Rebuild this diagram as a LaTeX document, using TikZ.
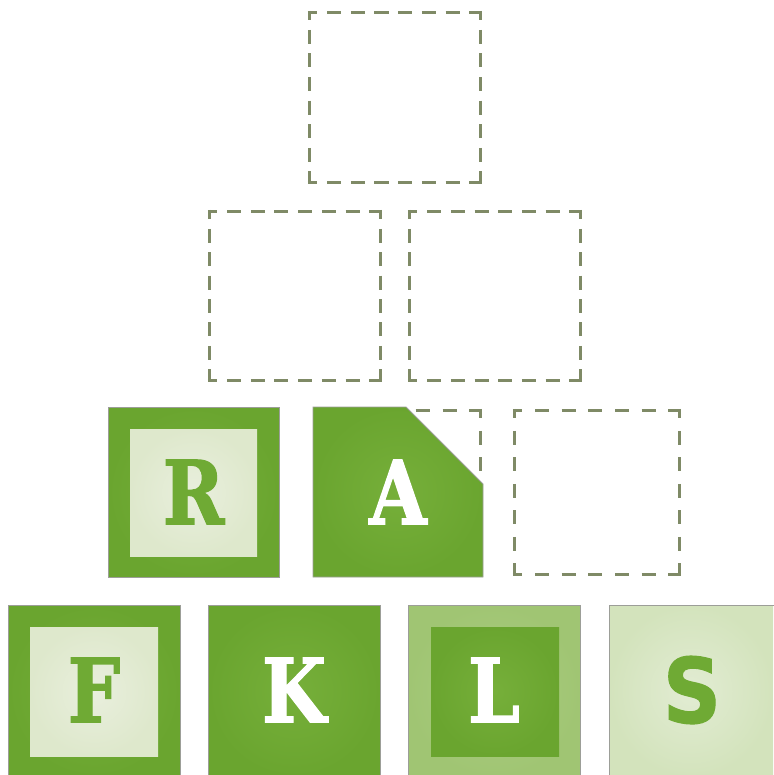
\documentclass[tikz,border=0pt]{standalone}
\usepackage{fontspec}
\newfontfamily\slabfont[BoldFeatures={FakeBold=1.6}]{DejaVu Serif}
\newfontfamily\roundfont[BoldFeatures={FakeBold=1.2}]{DejaVu Sans}
\definecolor{dashc}{HTML}{7F8A66}
\definecolor{tileg}{HTML}{76AF3A}
\definecolor{tilegd}{HTML}{6AA52F}
\definecolor{lightc}{HTML}{E9EFDD}
\definecolor{lightd}{HTML}{DEE8CC}
\definecolor{lgreen}{HTML}{ABCC82}
\definecolor{lgreend}{HTML}{A0C573}
\definecolor{sc}{HTML}{E2ECD3}
\definecolor{scd}{HTML}{D3E3BC}
\definecolor{letg}{HTML}{6FAA34}
\definecolor{edgec}{HTML}{9C9E98}
\tikzset{
  dboxline/.style={draw=dashc, line width=3.3pt, line cap=butt},
  tileedge/.style={draw=edgec, line width=0.9pt},
  letter/.style={inner sep=0pt, font=\slabfont\bfseries\fontsize{88}{88}\selectfont, xscale=0.84},
  roundletter/.style={inner sep=0pt, font=\roundfont\bfseries\fontsize{90}{90}\selectfont, xscale=0.9},
}
\newcommand\dd{14}
\newcommand\dc{9.5}
% one dashed side: x0 y0 x1 y1 n
\newcommand\dside[5]{%
  \pgfmathsetmacro\sL{veclen(#3-#1,#4-#2)}%
  \pgfmathsetmacro\sG{(\sL-2*\dc-#5*\dd)/(#5+1)}%
  \pgfmathsetmacro\sP{\dd-\dc}%
  \draw[dboxline, dash pattern=on \dd pt off \sG pt, dash phase=\sP pt] (#1,#2) -- (#3,#4);%
}
% dashed box: x0 y0 x1 y1 n
\newcommand\dbox[5]{%
  \dside{#1-1.65}{#2}{#3+1.65}{#2}{#5}%
  \dside{#1-1.65}{#4}{#3+1.65}{#4}{#5}%
  \dside{#1}{#2-1.65}{#1}{#4+1.65}{#5}%
  \dside{#3}{#2-1.65}{#3}{#4+1.65}{#5}%
}
\begin{document}
\begin{tikzpicture}[x=1pt,y=-1pt]
\useasboundingbox (0,0) rectangle (773,775);
\fill[white] (0,0) rectangle (773,775);

% empty dashed places
\dbox{309.5}{12.5}{480.5}{182.5}{6}
\dbox{209.5}{211.5}{380.5}{380.5}{6}
\dbox{409.5}{211.5}{580.5}{380.5}{6}
\dbox{314.5}{410.5}{480.5}{574.5}{5}
\dbox{514.5}{410.5}{679.5}{574.5}{5}

% R tile
\shade[inner color=tileg, outer color=tilegd] (108,407) rectangle (279,577);
\shade[inner color=lightc, outer color=lightd] (130,429) rectangle (257,556);
\draw[tileedge] (108,407) rectangle (279,577);
\node[letter, text=letg] (R) at (193.5,492) {R};

% A tile with cut corner
\shade[inner color=tileg, outer color=tilegd] (313,407) -- (406,407) -- (483,484) -- (483,577) -- (313,577) -- cycle;
\draw[tileedge] (313,407) -- (406,407) -- (483,484) -- (483,577) -- (313,577) -- cycle;
\node[letter, text=white] (A) at (398,492) {A};

% F tile
\shade[inner color=tileg, outer color=tilegd] (8,605) rectangle (180,777);
\shade[inner color=lightc, outer color=lightd] (30,627) rectangle (158,756);
\draw[tileedge] (8,605) rectangle (180,777);
\node[letter, text=letg] (F) at (94,690) {F};

% K tile
\shade[inner color=tileg, outer color=tilegd] (208,605) rectangle (380,777);
\draw[tileedge] (208,605) rectangle (380,777);
\node[letter, text=white] (K) at (294,690) {K};

% L tile
\shade[inner color=lgreen, outer color=lgreend] (408,605) rectangle (580,777);
\shade[inner color=tileg, outer color=tilegd] (431,627) rectangle (559,756);
\draw[tileedge] (408,605) rectangle (580,777);
\node[letter, text=white] (L) at (494,690) {L};

% S tile
\shade[inner color=sc, outer color=scd] (609,605) rectangle (773,777);
\draw[tileedge] (609,605) rectangle (775,777);
\node[roundletter, text=letg] (S) at (692,690) {S};
\end{tikzpicture}
\end{document}
